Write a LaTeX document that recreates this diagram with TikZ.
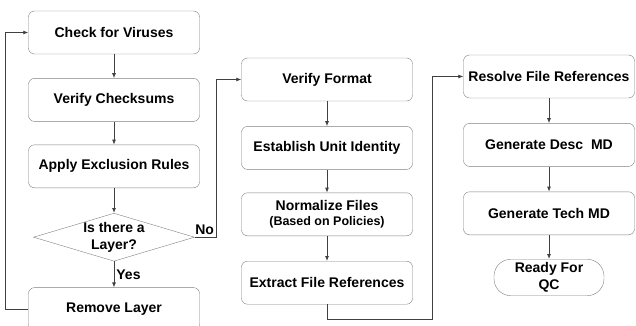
\documentclass[tikz,border=0pt]{standalone}
\usepackage{fontspec}
\setmainfont{Liberation Sans}
\usetikzlibrary{arrows.meta,positioning,shapes.geometric}

\begin{document}
\begin{tikzpicture}[x=1pt,y=-1pt,
  stepbox/.style={rectangle,draw=black!50,rounded corners=6pt,minimum width=171pt,
                minimum height=43pt,inner sep=1pt,align=center,font=\fontsize{14}{16}\selectfont\bfseries},
  decide/.style={diamond,draw=black!50,inner sep=0pt,minimum width=161pt,
                minimum height=48pt},
  term/.style={rectangle,draw=black!50,rounded corners=17pt,minimum width=110pt,
                minimum height=36pt,align=center,font=\fontsize{14}{17}\selectfont\bfseries},
  tag/.style={font=\fontsize{14}{16}\selectfont\bfseries,inner sep=2pt},
  arrow/.style={-{Latex[length=5pt,width=4pt]},draw=black!75,line width=0.8pt}]

\clip (0,0) rectangle (636,326);

% first column
\node[stepbox] (virus) at (114,32.5) {Check for Viruses};
\node[stepbox,below=24pt of virus] (chksum) {Verify Checksums};
\node[stepbox,below=23pt of chksum] (exclude) {Apply Exclusion Rules};
\node[decide,below=25pt of exclude] (layer) {};
\node[tag,align=center,font=\fontsize{14}{17}\selectfont\bfseries] (layerq) at (layer) {Is there a\\Layer?};
\node[stepbox,below=26pt of layer] (remove) {Remove Layer};

% second column
\node[stepbox] (format) at (327,79.5) {Verify Format};
\node[stepbox,below=25pt of format] (unit) {Establish Unit Identity};
\node[stepbox,below=23pt of unit] (normal)
{Normalize Files\\[-1pt]{\fontsize{12.5}{14}\selectfont (Based on Policies)}};
\node[stepbox,below=25pt of normal] (extract) {Extract File References};

% third column
\node[stepbox] (resolve) at (549,76.5) {Resolve File References};
\node[stepbox,below=25pt of resolve] (desc) {Generate Desc\ \ MD};
\node[stepbox,below=25pt of desc] (tech) {Generate Tech MD};
\node[term,below=24pt of tech] (ready) {Ready For\\QC};

\draw[arrow] (virus)--(chksum);
\draw[arrow] (chksum)--(exclude);
\draw[arrow] (exclude)--(layer);
\draw[arrow] (layer)--node[tag,right]{Yes}(remove);
\draw[arrow] (remove.west)--++(-23,0)|-(virus.west);
\draw[arrow] (layer.east)--node[tag,above,pos=0.45]{No}++(22,0)|-(format.west);

\draw[arrow] (format)--(unit);
\draw[arrow] (unit)--(normal);
\draw[arrow] (normal)--(extract);
\draw[arrow] (extract.south)--++(0,15)-|([xshift=-31pt]resolve.west)--(resolve.west);

\draw[arrow] (resolve)--(desc);
\draw[arrow] (desc)--(tech);
\draw[arrow] (tech)--(ready);
\end{tikzpicture}
\end{document}
